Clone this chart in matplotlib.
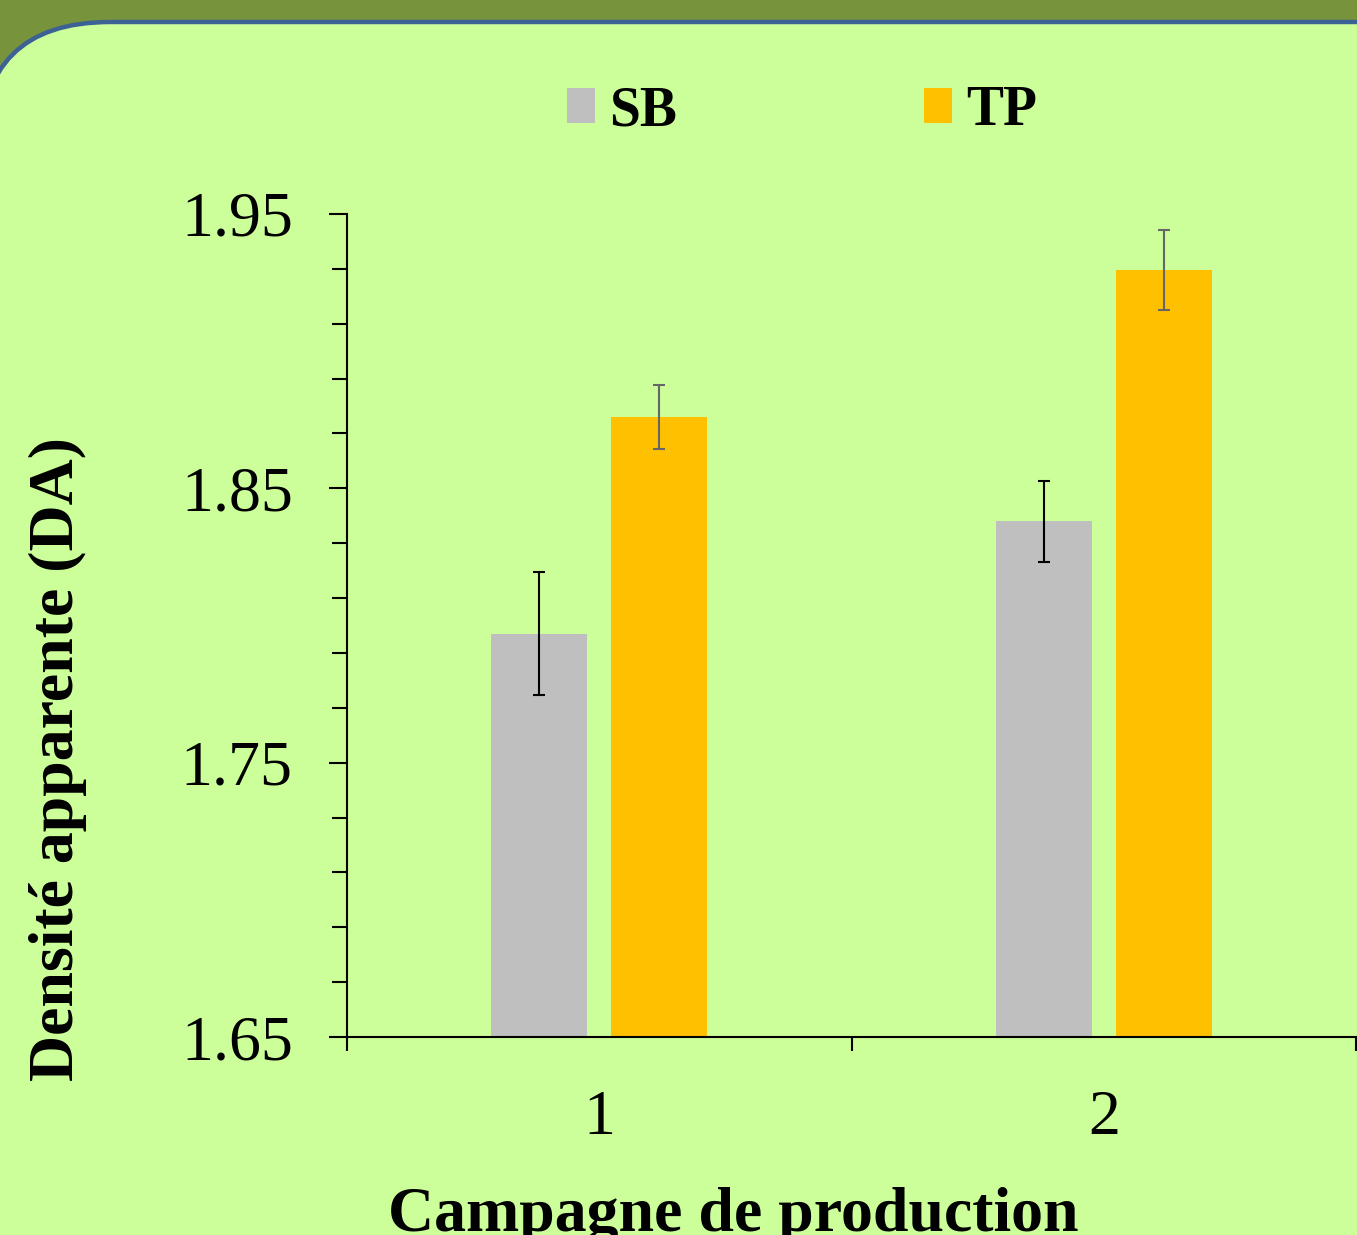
import matplotlib
matplotlib.use("Agg")
import matplotlib.pyplot as plt
from matplotlib.patches import FancyBboxPatch, Patch
from matplotlib.ticker import FixedLocator
import numpy as np

# Densité apparente par campagne
campagnes = ["1", "2"]
sb = [1.797, 1.838]
sb_err = [0.0225, 0.0148]
tp = [1.876, 1.9296]
tp_err = [0.0117, 0.0146]

W, H = 1357, 1235
plt.rcParams["font.family"] = ["Liberation Serif", "DejaVu Serif"]

fig = plt.figure(figsize=(W / 100, H / 100), dpi=100)
fig.patch.set_facecolor("#77933C")

# cadre arrondi vert clair
cadre = FancyBboxPatch((-20, -60), W + 300, H - 22 + 60,
                       boxstyle="round,pad=0,rounding_size=130",
                       transform=None, facecolor="#CCFF99",
                       edgecolor="#3B6195", linewidth=3.2, zorder=-5)
fig.patches.append(cadre)

ax = fig.add_axes([347 / W, 1 - 1037 / H, 1009 / W, (1037 - 214) / H])
ax.set_facecolor("none")
ax.set_zorder(2)

x = np.arange(1, len(campagnes) + 1)
larg = 0.19
dec = 0.119
ax.bar(x - dec, sb, larg, color="#BFBFBF", zorder=2)
ax.bar(x + dec, tp, larg, color="#FFC000", zorder=2)
ax.errorbar(x - dec, sb, yerr=sb_err, fmt="none", ecolor="black",
            elinewidth=1.5, capsize=4.5, capthick=1.5, zorder=3)
ax.errorbar(x + dec, tp, yerr=tp_err, fmt="none", ecolor="#666666",
            elinewidth=1.5, capsize=4.5, capthick=1.5, zorder=3)

ax.set_ylim(1.65, 1.95)
ax.set_xlim(0.5, len(campagnes) + 0.5)

ax.yaxis.set_major_locator(FixedLocator([1.65, 1.75, 1.85, 1.95]))
ax.yaxis.set_minor_locator(FixedLocator(np.arange(1.65, 1.951, 0.02)))
ax.set_yticklabels(["1.65", "1.75", "1.85", "1.95"])
ax.tick_params(axis="y", which="major", length=13, width=1.5, labelsize=46, pad=26)
ax.tick_params(axis="y", which="minor", length=11, width=1.5)

# ticks entre catégories, étiquettes au centre
ax.xaxis.set_major_locator(FixedLocator(np.arange(0.5, len(campagnes) + 1, 1.0)))
ax.xaxis.set_major_formatter(plt.NullFormatter())
ax.xaxis.set_minor_locator(FixedLocator(x))
ax.set_xticklabels(campagnes, minor=True)
ax.tick_params(axis="x", which="major", length=10, width=1.5)
ax.tick_params(axis="x", which="minor", length=0, labelsize=46, pad=38)

for s in ["top", "right"]:
    ax.spines[s].set_visible(False)
for s in ["left", "bottom"]:
    ax.spines[s].set_linewidth(1.5)

# titres des axes
fig.text(58 / W, 1 - 759 / H, "Densité apparente (DA)", rotation=90,
         ha="center", va="center", fontsize=46, fontweight="bold")
fig.text(733 / W, 1 - 1231 / H, "Campagne de production",
         ha="center", va="baseline", fontsize=46, fontweight="bold")

poignees = [Patch(facecolor="#BFBFBF", label="SB"), Patch(facecolor="#FFC000", label="TP")]
fig.legend(handles=poignees, loc="center", bbox_to_anchor=(802 / W, 1 - 111 / H),
           ncol=2, frameon=False, prop={"weight": "bold", "size": 40},
           handlelength=0.5, handleheight=0.6, handletextpad=0.25,
           columnspacing=4.45)

fig.savefig("out.png", dpi=100, facecolor=fig.get_facecolor())
